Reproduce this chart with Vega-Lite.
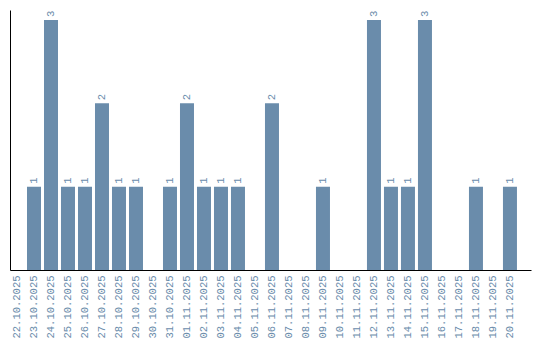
{
  "$schema": "https://vega.github.io/schema/vega-lite/v6.json",
  "width": 521,
  "height": 260,
  "autosize": {"type": "none"},
  "padding": {"left": 10, "top": 10, "right": 9, "bottom": 70},
  "config": {"view": {"stroke": null}},
  "data": {"values": [
    {"date": "22.10.2025", "count": 0},
    {"date": "23.10.2025", "count": 1},
    {"date": "24.10.2025", "count": 3},
    {"date": "25.10.2025", "count": 1},
    {"date": "26.10.2025", "count": 1},
    {"date": "27.10.2025", "count": 2},
    {"date": "28.10.2025", "count": 1},
    {"date": "29.10.2025", "count": 1},
    {"date": "30.10.2025", "count": 0},
    {"date": "31.10.2025", "count": 1},
    {"date": "01.11.2025", "count": 2},
    {"date": "02.11.2025", "count": 1},
    {"date": "03.11.2025", "count": 1},
    {"date": "04.11.2025", "count": 1},
    {"date": "05.11.2025", "count": 0},
    {"date": "06.11.2025", "count": 2},
    {"date": "07.11.2025", "count": 0},
    {"date": "08.11.2025", "count": 0},
    {"date": "09.11.2025", "count": 1},
    {"date": "10.11.2025", "count": 0},
    {"date": "11.11.2025", "count": 0},
    {"date": "12.11.2025", "count": 3},
    {"date": "13.11.2025", "count": 1},
    {"date": "14.11.2025", "count": 1},
    {"date": "15.11.2025", "count": 3},
    {"date": "16.11.2025", "count": 0},
    {"date": "17.11.2025", "count": 0},
    {"date": "18.11.2025", "count": 1},
    {"date": "19.11.2025", "count": 0},
    {"date": "20.11.2025", "count": 1}
  ]},
  "encoding": {
    "x": {
      "field": "date", "type": "nominal", "sort": null,
      "scale": {"paddingInner": 0.1765, "paddingOuter": 0.413, "align": 0},
      "axis": {
        "title": null, "ticks": false, "labelAngle": -90, "labelAlign": "right", "labelBaseline": "middle",
        "labelPadding": 5, "labelFont": "Liberation Mono", "labelFontSize": 10.5, "labelColor": "#6a8cab",
        "domainColor": "#000000", "domainWidth": 1, "grid": false
      }
    },
    "y": {
      "field": "count", "type": "quantitative",
      "scale": {"domain": [0, 3.12], "nice": false},
      "axis": {"title": null, "ticks": false, "labels": false, "grid": false, "domainColor": "#000000", "domainWidth": 1}
    }
  },
  "layer": [
    {"mark": {"type": "bar", "color": "#6a8cab"}},
    {
      "transform": [{"filter": "datum.count > 0"}],
      "mark": {"type": "text", "angle": -90, "align": "left", "baseline": "middle", "dx": 3, "font": "Liberation Mono", "fontSize": 10.5, "color": "#6a8cab"},
      "encoding": {"text": {"field": "count", "type": "quantitative"}}
    }
  ]
}
